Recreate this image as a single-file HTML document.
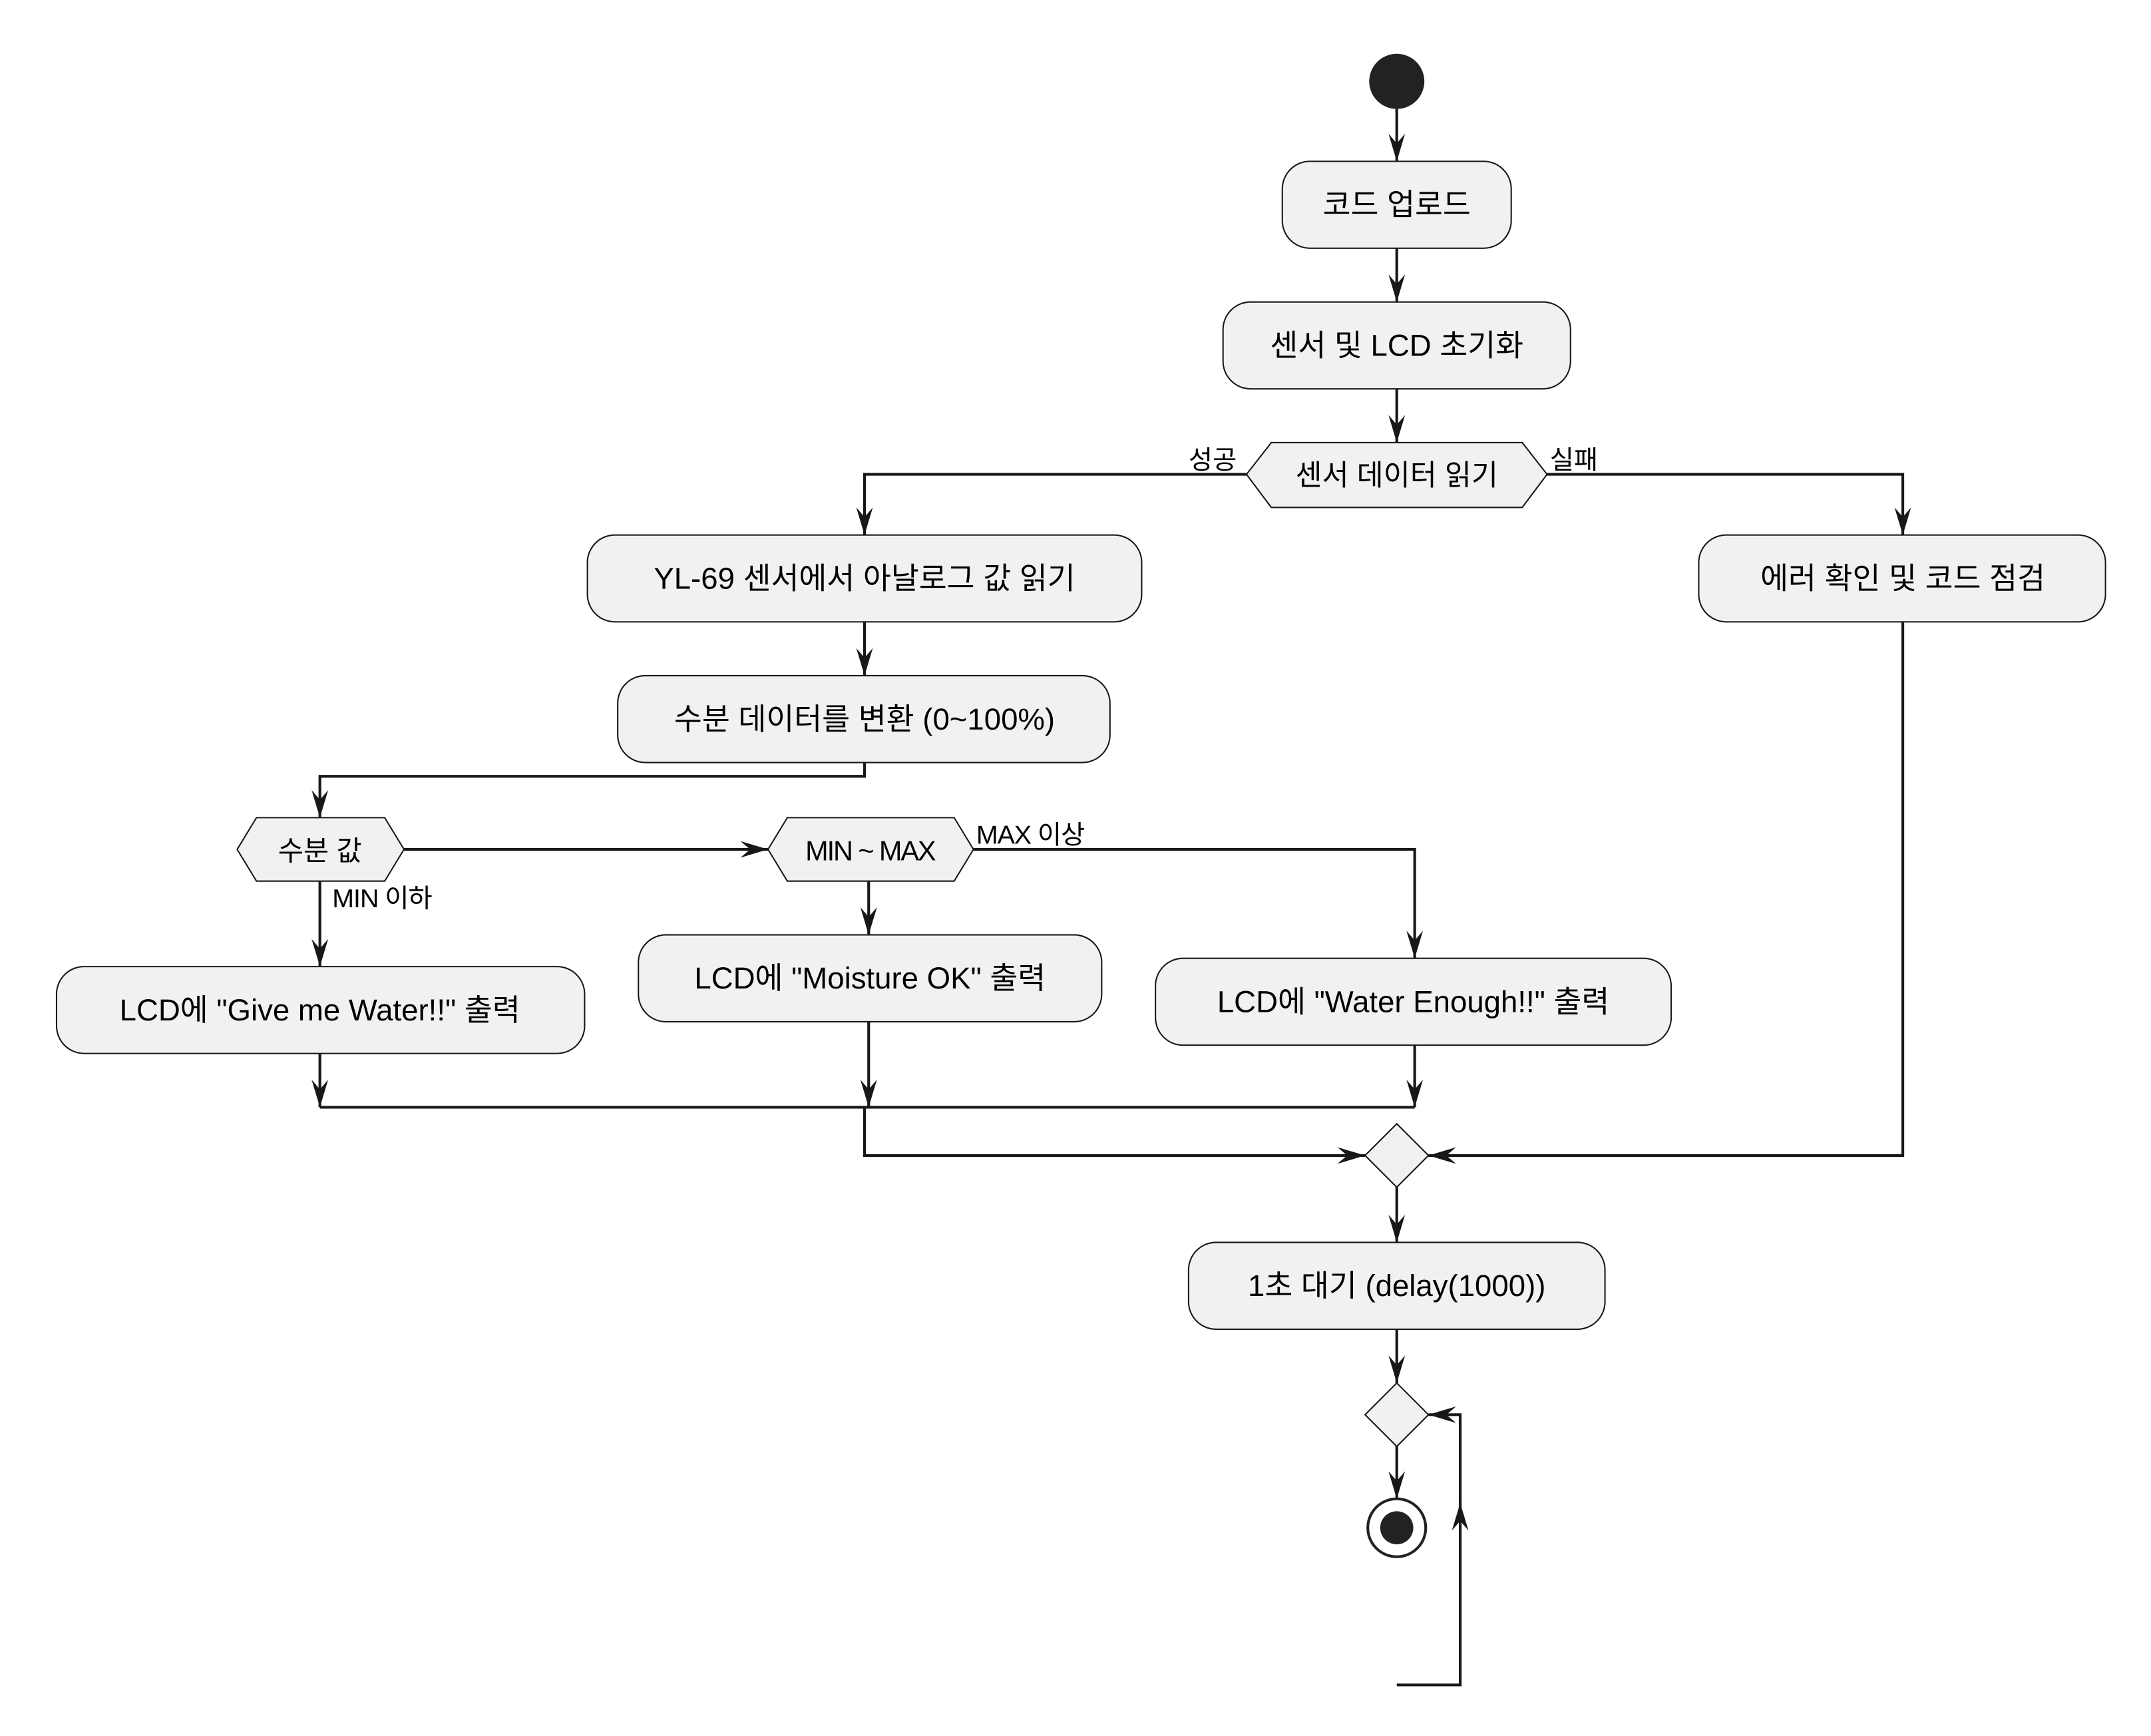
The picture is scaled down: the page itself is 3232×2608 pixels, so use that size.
<!DOCTYPE html>
<html><head><meta charset="utf-8"><style>
html,body{margin:0;padding:0;background:#fff;}
svg{display:block;}
text{font-family:"Liberation Sans","Noto Sans CJK KR",sans-serif;fill:#000;}
</style></head><body>
<svg width="3232" height="2608" viewBox="0 0 1560 1259" preserveAspectRatio="none" xmlns="http://www.w3.org/2000/svg">
<defs>
<marker id="a" viewBox="0 0 20 12" refX="20" refY="6" markerWidth="20" markerHeight="12" markerUnits="userSpaceOnUse" orient="auto">
<path d="M0,0 L20,6 L0,12 L7,6 Z" fill="#181818"/>
</marker>
</defs>
<g fill="none" stroke="#181818" stroke-width="2">
<line x1="1013" y1="79" x2="1013" y2="117" marker-end="url(#a)"/>
<line x1="1013" y1="180" x2="1013" y2="219" marker-end="url(#a)"/>
<line x1="1013" y1="282" x2="1013" y2="321" marker-end="url(#a)"/>
<polyline points="904,344 627,344 627,388" marker-end="url(#a)"/>
<polyline points="1122,344 1380,344 1380,388" marker-end="url(#a)"/>
<line x1="627" y1="451" x2="627" y2="490" marker-end="url(#a)"/>
<polyline points="627,553 627,563 232,563 232,593" marker-end="url(#a)"/>
<line x1="293" y1="616" x2="557" y2="616" marker-end="url(#a)"/>
<line x1="232" y1="639" x2="232" y2="701" marker-end="url(#a)"/>
<line x1="630" y1="639" x2="630" y2="678" marker-end="url(#a)"/>
<polyline points="706,616 1026,616 1026,695" marker-end="url(#a)"/>
<line x1="232" y1="764" x2="232" y2="803" marker-end="url(#a)"/>
<line x1="630" y1="741" x2="630" y2="803" marker-end="url(#a)"/>
<line x1="1026" y1="758" x2="1026" y2="803" marker-end="url(#a)"/>
<line x1="232" y1="803" x2="1026" y2="803"/>
<polyline points="627,803 627,838 990,838" marker-end="url(#a)"/>
<polyline points="1380,451 1380,838 1036,838" marker-end="url(#a)"/>
<line x1="1013" y1="861" x2="1013" y2="901" marker-end="url(#a)"/>
<line x1="1013" y1="964" x2="1013" y2="1003" marker-end="url(#a)"/>
<line x1="1013" y1="1049" x2="1013" y2="1087" marker-end="url(#a)"/>
<polyline points="1013,1222 1059,1222 1059,1090" marker-end="url(#a)"/>
<polyline points="1059,1095 1059,1026 1036,1026" marker-end="url(#a)"/>
</g>
<g fill="#f1f1f1" stroke="#181818" stroke-width="1">
<rect x="930" y="117" width="166" height="63" rx="20"/>
<rect x="887" y="219" width="252" height="63" rx="20"/>
<polygon points="904,344 922,321 1104,321 1122,344 1104,368 922,368"/>
<rect x="426" y="388" width="402" height="63" rx="20"/>
<rect x="1232" y="388" width="295" height="63" rx="20"/>
<rect x="448" y="490" width="357" height="63" rx="20"/>
<polygon points="172,616 186,593 279,593 293,616 279,639 186,639"/>
<polygon points="557,616 571,593 692,593 706,616 692,639 571,639"/>
<rect x="41" y="701" width="383" height="63" rx="20"/>
<rect x="463" y="678" width="336" height="63" rx="20"/>
<rect x="838" y="695" width="374" height="63" rx="20"/>
<polygon points="1013,815 1036,838 1013,861 990,838"/>
<rect x="862" y="901" width="302" height="63" rx="20"/>
<polygon points="1013,1003 1036,1026 1013,1049 990,1026"/>
</g>
<circle cx="1013" cy="59" r="20" fill="#222"/>
<circle cx="1013" cy="1108" r="21" fill="#fff" stroke="#222" stroke-width="2"/>
<circle cx="1013" cy="1108" r="12" fill="#222"/>
<g font-size="22" text-anchor="middle">
<text x="1013" y="156">코드 업로드</text>
<text x="1013" y="258">센서 및 LCD 초기화</text>
<text x="1013" y="352" font-size="21">센서 데이터 읽기</text>
<text x="627" y="427">YL-69 센서에서 아날로그 값 읽기</text>
<text x="1380" y="427">에러 확인 및 코드 점검</text>
<text x="627" y="529">수분 데이터를 변환 (0~100%)</text>
<text x="232" y="624" font-size="20">수분 값</text>
<text x="631" y="624" font-size="20" letter-spacing="-1">MIN ~ MAX</text>
<text x="232" y="740">LCD에 "Give me Water!!" 출력</text>
<text x="631" y="717">LCD에 "Moisture OK" 출력</text>
<text x="1025" y="734">LCD에 "Water Enough!!" 출력</text>
<text x="1013" y="940">1초 대기 (delay(1000))</text>
</g>
<g font-size="19">
<text x="862" y="340">성공</text>
<text x="1124" y="340">실패</text>
<text x="241" y="658" letter-spacing="-0.5">MIN 이하</text>
<text x="708" y="612" letter-spacing="-0.5">MAX 이상</text>
</g>
</svg>
</body></html>
